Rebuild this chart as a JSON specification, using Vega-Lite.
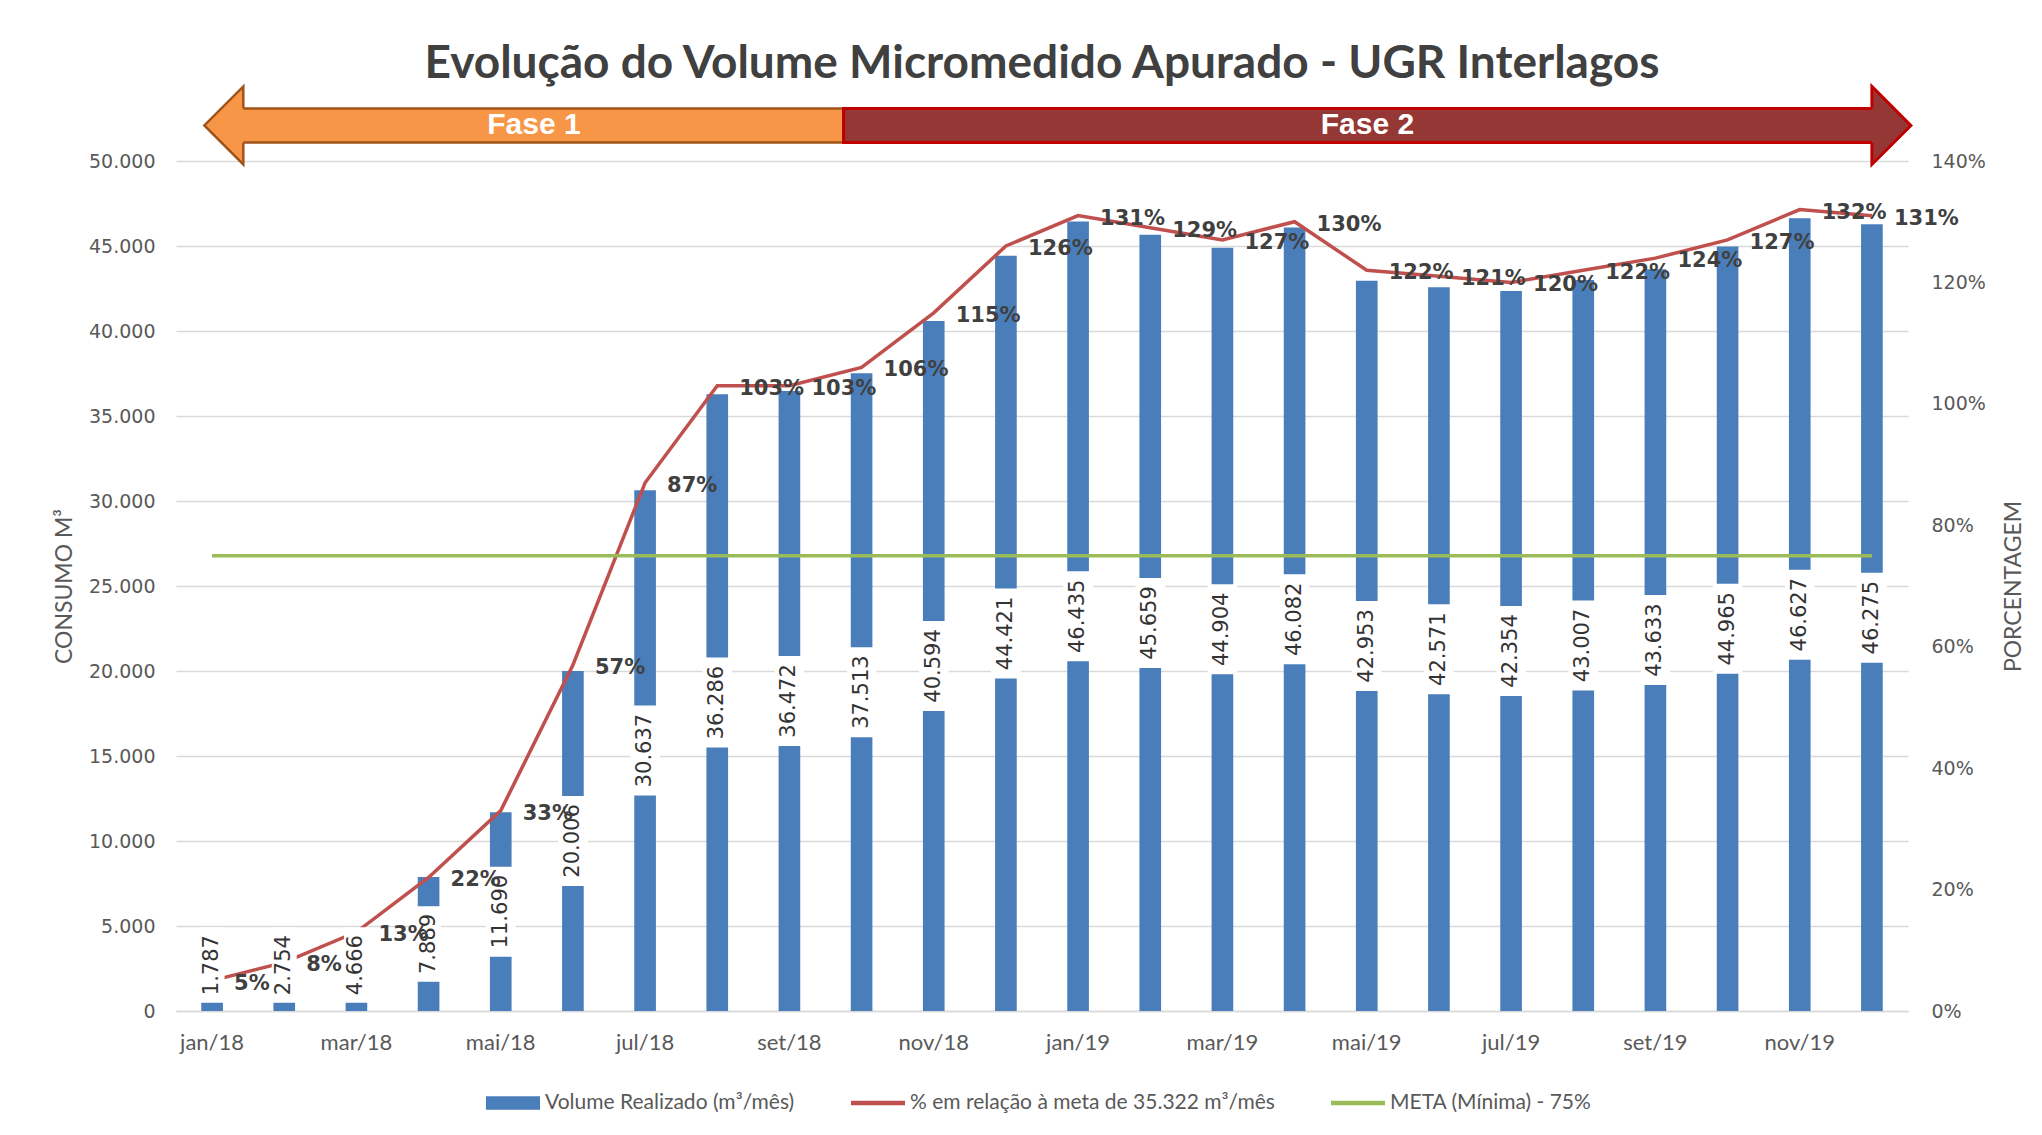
{
  "$schema": "https://vega.github.io/schema/vega-lite/v6.json",
  "width": 1732,
  "height": 850,
  "autosize": {"type": "none"},
  "padding": {"left": 176, "top": 161, "right": 134, "bottom": 124},
  "background": "white",
  "title": {
    "text": "Evolução do Volume Micromedido Apurado - UGR Interlagos",
    "anchor": "middle",
    "font": "Lato",
    "fontSize": 46,
    "fontWeight": "bold",
    "color": "#404040",
    "offset": -8
  },
  "datasets": {
    "dados": [
      {"mes": "jan/18", "vol": 1787, "pct": 0.05, "meta": 0.75},
      {"mes": "fev/18", "vol": 2754, "pct": 0.08, "meta": 0.75},
      {"mes": "mar/18", "vol": 4666, "pct": 0.13, "meta": 0.75},
      {"mes": "abr/18", "vol": 7889, "pct": 0.22, "meta": 0.75},
      {"mes": "mai/18", "vol": 11690, "pct": 0.33, "meta": 0.75},
      {"mes": "jun/18", "vol": 20006, "pct": 0.57, "meta": 0.75},
      {"mes": "jul/18", "vol": 30637, "pct": 0.87, "meta": 0.75},
      {"mes": "ago/18", "vol": 36286, "pct": 1.03, "meta": 0.75},
      {"mes": "set/18", "vol": 36472, "pct": 1.03, "meta": 0.75},
      {"mes": "out/18", "vol": 37513, "pct": 1.06, "meta": 0.75},
      {"mes": "nov/18", "vol": 40594, "pct": 1.15, "meta": 0.75},
      {"mes": "dez/18", "vol": 44421, "pct": 1.26, "meta": 0.75},
      {"mes": "jan/19", "vol": 46435, "pct": 1.31, "meta": 0.75},
      {"mes": "fev/19", "vol": 45659, "pct": 1.29, "meta": 0.75},
      {"mes": "mar/19", "vol": 44904, "pct": 1.27, "meta": 0.75},
      {"mes": "abr/19", "vol": 46082, "pct": 1.30, "meta": 0.75},
      {"mes": "mai/19", "vol": 42953, "pct": 1.22, "meta": 0.75},
      {"mes": "jun/19", "vol": 42571, "pct": 1.21, "meta": 0.75},
      {"mes": "jul/19", "vol": 42354, "pct": 1.20, "meta": 0.75},
      {"mes": "ago/19", "vol": 43007, "pct": 1.22, "meta": 0.75},
      {"mes": "set/19", "vol": 43633, "pct": 1.24, "meta": 0.75},
      {"mes": "out/19", "vol": 44965, "pct": 1.27, "meta": 0.75},
      {"mes": "nov/19", "vol": 46627, "pct": 1.32, "meta": 0.75},
      {"mes": "dez/19", "vol": 46275, "pct": 1.31, "meta": 0.75}
    ],
    "corpos": [
      {"fase": "Fase 1", "x": 0.40, "x2": 8.75, "y": 53090, "y2": 51090},
      {"fase": "Fase 2", "x": 8.75, "x2": 23.03, "y": 53090, "y2": 51090}
    ],
    "pontas": [
      {"fase": "Fase 1", "x": 0.1625, "y": 52090},
      {"fase": "Fase 2", "x": 23.27, "y": 52090}
    ],
    "fases": [
      {"fase": "Fase 1", "x": 4.46, "y": 52090},
      {"fase": "Fase 2", "x": 16.01, "y": 52090}
    ]
  },
  "layer": [
    {
      "data": {"name": "dados"},
      "transform": [{"calculate": "max(datum.vol / 2, 2700)", "as": "lp"}],
      "encoding": {
        "x": {
          "field": "mes",
          "type": "ordinal",
          "sort": null,
          "scale": {"type": "band", "paddingInner": 0.7, "paddingOuter": 0.35},
          "axis": {
            "values": ["jan/18", "mar/18", "mai/18", "jul/18", "set/18", "nov/18", "jan/19", "mar/19", "mai/19", "jul/19", "set/19", "nov/19"],
            "labelAngle": 0,
            "title": null,
            "ticks": false,
            "grid": false,
            "domainColor": "#d9d9d9",
            "domainWidth": 1.5,
            "labelFont": "Lato",
            "labelFontSize": 22,
            "labelColor": "#595959",
            "labelPadding": 21
          }
        }
      },
      "layer": [
        {
          "mark": {"type": "bar", "color": "#4a7ebb"},
          "encoding": {
            "y": {
              "field": "vol",
              "type": "quantitative",
              "scale": {"domain": [0, 50000], "nice": false},
              "axis": {
                "values": [0, 5000, 10000, 15000, 20000, 25000, 30000, 35000, 40000, 45000, 50000],
                "format": ",d",
                "grid": true,
                "gridColor": "#d9d9d9",
                "gridWidth": 1.5,
                "domain": false,
                "ticks": false,
                "labelFont": "DejaVu Sans",
                "labelFontSize": 19,
                "labelColor": "#595959",
                "labelPadding": 21,
                "title": "CONSUMO M³",
                "titleFont": "Lato",
                "titleFontSize": 23,
                "titleFontWeight": "normal",
                "titleColor": "#595959",
                "titlePadding": 12
              }
            },
            "color": {
              "datum": "Volume Realizado (m³/mês)",
              "type": "nominal",
              "scale": {
                "domain": ["Volume Realizado (m³/mês)", "% em relação à meta de 35.322 m³/mês", "META (Mínima) - 75%"],
                "range": ["#4a7ebb", "#c0504d", "#9bbb59"]
              },
              "legend": {
                "orient": "none",
                "legendX": 310,
                "legendY": 915,
                "direction": "horizontal",
                "title": null,
                "symbolType": "square",
                "symbolSize": 2916,
                "labelFont": "Lato",
                "labelFontSize": 21,
                "labelColor": "#595959",
                "labelOffset": 5,
                "labelLimit": 700,
                "columnPadding": 56,
                "encode": {
                  "symbols": {
                    "update": {
                      "shape": {"signal": "datum.value === 'Volume Realizado (m³/mês)' ? 'M-1,-0.25H1V0.25H-1Z' : 'M-1,-0.08H1V0.08H-1Z'"},
                      "fill": {"scale": "color", "field": "value"},
                      "stroke": {"value": "transparent"},
                      "strokeWidth": {"value": 0},
                      "opacity": {"value": 1}
                    }
                  }
                }
              }
            }
          }
        },
        {
          "mark": {"type": "line", "strokeWidth": 3.5},
          "encoding": {
            "y": {
              "field": "pct",
              "type": "quantitative",
              "scale": {"domain": [0, 1.4], "nice": false},
              "axis": {
                "orient": "right",
                "values": [0, 0.2, 0.4, 0.6, 0.8, 1, 1.2, 1.4],
                "format": ".0%",
                "grid": false,
                "domain": false,
                "ticks": false,
                "labelFont": "DejaVu Sans",
                "labelFontSize": 19,
                "labelColor": "#595959",
                "labelPadding": 23,
                "title": "PORCENTAGEM",
                "titleAngle": 270,
                "titleFont": "Lato",
                "titleFontSize": 23,
                "titleFontWeight": "normal",
                "titleColor": "#595959",
                "titlePadding": 40
              }
            },
            "color": {"datum": "% em relação à meta de 35.322 m³/mês", "type": "nominal"}
          }
        },
        {
          "mark": {"type": "line", "strokeWidth": 3.5},
          "encoding": {
            "y": {"field": "meta", "type": "quantitative", "scale": {"domain": [0, 1.4], "nice": false}, "axis": null},
            "color": {"datum": "META (Mínima) - 75%", "type": "nominal"}
          }
        },
        {
          "mark": {"type": "point", "shape": "M-0.33,-1H0.33V1H-0.33Z", "filled": true, "fill": "white", "opacity": 1, "strokeWidth": 0},
          "encoding": {
            "y": {"field": "lp", "type": "quantitative", "scale": {"domain": [0, 50000], "nice": false}, "axis": null},
            "size": {"condition": {"test": "datum.vol < 10000", "value": 5700}, "value": 8100}
          }
        },
        {
          "mark": {"type": "text", "angle": 270, "font": "DejaVu Sans", "fontSize": 21, "color": "#333333", "baseline": "middle", "align": "center"},
          "encoding": {
            "y": {"field": "lp", "type": "quantitative", "scale": {"domain": [0, 50000], "nice": false}, "axis": null},
            "text": {"field": "vol", "type": "quantitative", "format": ",d"}
          }
        },
        {
          "mark": {"type": "text", "align": "left", "baseline": "middle", "dx": 22, "dy": 3, "font": "DejaVu Sans", "fontWeight": "bold", "fontSize": 21, "color": "#404040"},
          "encoding": {
            "y": {"field": "pct", "type": "quantitative", "scale": {"domain": [0, 1.4], "nice": false}, "axis": null},
            "text": {"field": "pct", "type": "quantitative", "format": ".0%"}
          }
        }
      ],
      "resolve": {"scale": {"y": "independent"}}
    },
    {
      "encoding": {
        "x": {"field": "x", "type": "quantitative", "scale": {"domain": [-0.5, 23.5], "nice": false, "zero": false}, "axis": null},
        "y": {"field": "y", "type": "quantitative", "scale": {"domain": [0, 50000], "nice": false, "zero": false}, "axis": null}
      },
      "layer": [
        {
          "data": {"name": "corpos"},
          "transform": [{"filter": "datum.fase === 'Fase 1'"}],
          "mark": {"type": "rect", "fill": "#f79646", "stroke": "#a0541a", "strokeWidth": 2.5, "opacity": 1},
          "encoding": {"x2": {"field": "x2"}, "y2": {"field": "y2"}}
        },
        {
          "data": {"name": "pontas"},
          "transform": [{"filter": "datum.fase === 'Fase 1'"}],
          "mark": {"type": "point", "shape": "M0.5,-0.44L0.5,-1L-0.5,0L0.5,1L0.5,0.44", "size": 6084, "filled": true, "fill": "#f79646", "stroke": "#a0541a", "strokeWidth": 2.5, "opacity": 1}
        },
        {
          "data": {"name": "corpos"},
          "transform": [{"filter": "datum.fase === 'Fase 2'"}],
          "mark": {"type": "rect", "fill": "#953735", "stroke": "#c00000", "strokeWidth": 3, "opacity": 1},
          "encoding": {"x2": {"field": "x2"}, "y2": {"field": "y2"}}
        },
        {
          "data": {"name": "pontas"},
          "transform": [{"filter": "datum.fase === 'Fase 2'"}],
          "mark": {"type": "point", "shape": "M-0.5,-0.44L-0.5,-1L0.5,0L-0.5,1L-0.5,0.44", "size": 6084, "filled": true, "fill": "#953735", "stroke": "#c00000", "strokeWidth": 3, "opacity": 1}
        },
        {
          "data": {"name": "fases"},
          "mark": {"type": "text", "font": "Liberation Sans", "fontWeight": "bold", "fontSize": 30, "color": "white", "align": "center", "baseline": "middle"},
          "encoding": {"text": {"field": "fase", "type": "nominal"}}
        }
      ]
    }
  ],
  "resolve": {"scale": {"x": "independent", "y": "independent"}},
  "config": {
    "view": {"stroke": null},
    "locale": {
      "number": {"decimal": ",", "thousands": ".", "grouping": [3], "currency": ["R$", ""]}
    }
  }
}
